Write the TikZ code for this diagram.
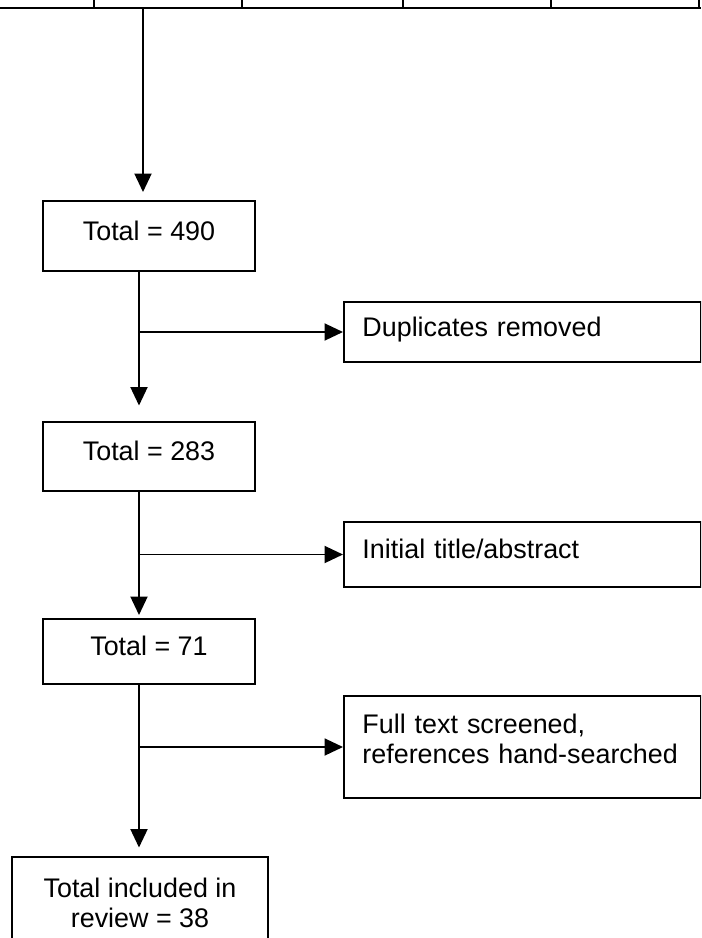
\documentclass[tikz,border=0pt]{standalone}
\usepackage{fontspec}
\setmainfont{Liberation Sans}
\usepackage{tikz}
\usetikzlibrary{arrows.meta}
\tikzstyle{oneline} = [text height=0.72em, text depth=0.22em]
\tikzstyle{totalbox} = [rectangle, draw=black, line width=1.1pt, minimum width=4.24cm, text centered, font=\fontsize{15.3}{17.1}\selectfont]
\tikzstyle{exclbox} = [rectangle, draw=black, line width=1.1pt, anchor=west, text width=6.4cm, inner xsep=0.37cm, align=left, font=\fontsize{15.3}{17.1}\selectfont]
\tikzstyle{arrow} = [line width=1.1pt, -{Triangle[length=0.37cm, width=0.34cm]}]

\begin{document}
\begin{tikzpicture}

\useasboundingbox (0, 0) rectangle (14.02, -18.76);
\clip (0, 0) rectangle (14.02, -18.76);

% Table above (cut off)
\draw [line width=0.8pt] (0, -0.16) -- (14.02, -0.16);
\foreach \x in {1.88, 4.84, 8.06, 11.02, 13.98}
  \draw [line width=0.6pt] (\x, 0) -- (\x, -0.16);
\coordinate (tbl) at (2.86, -0.16);

% Totals
\node[totalbox, oneline, minimum height=1.4cm] (t490) at (2.98, -4.72) {Total = 490};
\node[totalbox, oneline, minimum height=1.38cm] (t283) at (2.98, -9.13) {Total = 283};
\node[totalbox, oneline, minimum height=1.3cm] (t71) at (2.98, -13.03) {Total = 71};
\node[totalbox, align=center, minimum width=5.12cm, minimum height=1.82cm] (tfin) at (2.80, -18.05) {Total included in\\review = 38};

% Excluded
\node[exclbox, oneline, minimum height=1.2cm] (dup) at (6.86, -6.64) {Duplicates removed};
\node[exclbox, oneline, minimum height=1.3cm] (ini) at (6.86, -11.09) {Initial title/abstract};
\node[exclbox, text height=0.72em, text depth=0.8cm, minimum height=2.04cm] (full) at (6.86, -14.94) {Full text screened,\\references hand-searched};

% Flow
\draw [arrow, shorten >=0.16cm] (tbl) -- ([xshift=-0.12cm]t490.north);
\draw [arrow, shorten >=0.31cm] ([xshift=-0.2cm]t490.south) -- ([xshift=-0.2cm]t283.north);
\draw [arrow, shorten >=0.06cm] ([xshift=-0.2cm]t283.south) -- ([xshift=-0.2cm]t71.north);
\draw [arrow, shorten >=0.17cm] ([xshift=-0.2cm]t71.south) -- ([xshift=-0.2cm]t71.south |- tfin.north);

% Branches
\draw [arrow] ([xshift=-0.2cm]t490.south) |- (dup.west);
\draw [arrow] ([xshift=-0.2cm]t283.south) |- (ini.west);
\draw [arrow] ([xshift=-0.2cm]t71.south) |- (full.west);

\end{tikzpicture}
\end{document}
